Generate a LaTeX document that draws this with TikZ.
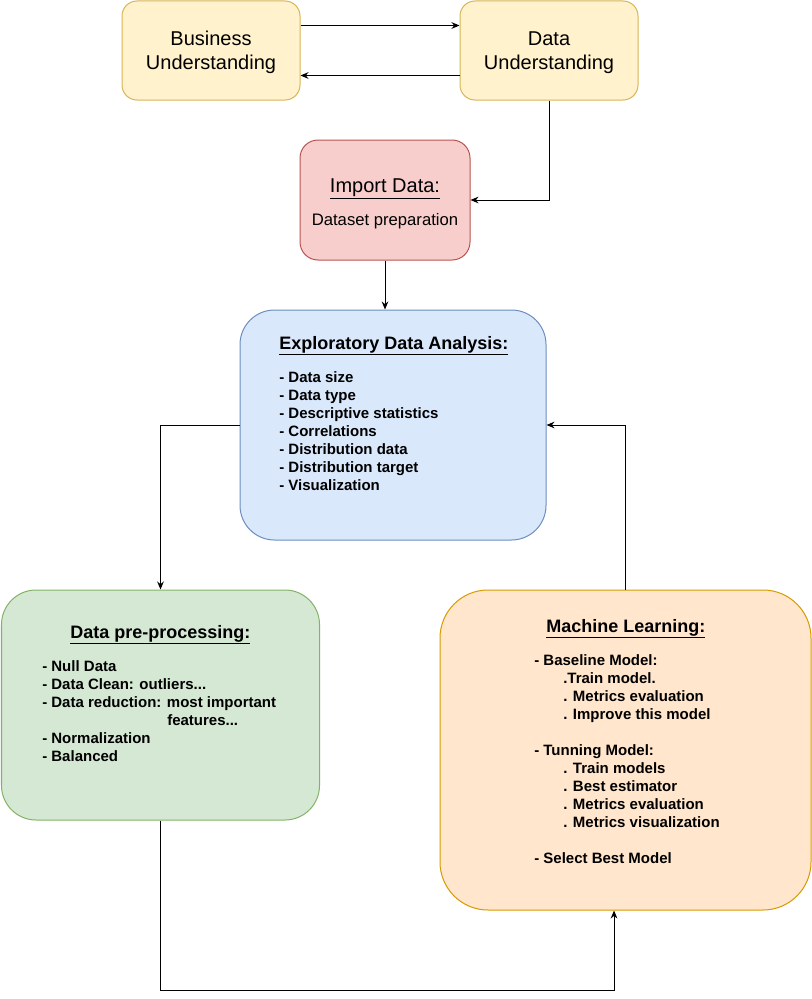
\documentclass[tikz,border=0pt]{standalone}
\usepackage{fontspec}
\setmainfont{Liberation Sans}
\usetikzlibrary{arrows.meta}
\definecolor{yelfill}{HTML}{FFF2CC}
\definecolor{yelline}{HTML}{D6B656}
\definecolor{redfill}{HTML}{F8CECC}
\definecolor{redline}{HTML}{B85450}
\definecolor{bluefill}{HTML}{DAE8FC}
\definecolor{blueline}{HTML}{6C8EBF}
\definecolor{greenfill}{HTML}{D5E8D4}
\definecolor{greenline}{HTML}{82B366}
\definecolor{orangefill}{HTML}{FFE6CC}
\definecolor{orangeline}{HTML}{D79B00}
\begin{document}
\begin{tikzpicture}[x=0.75pt,y=-0.75pt,
  box/.style={draw, line width=0.75pt, inner sep=0pt},
  plain/.style={font=\fontsize{15}{18}\selectfont, align=center, text depth=0pt},
  heading/.style={font=\fontsize{13.5}{16}\selectfont\bfseries, anchor=base west, inner sep=0pt},
  items/.style={font=\fontsize{11.25}{13.5}\selectfont\bfseries, align=left, anchor=base west, inner sep=0pt},
  flow/.style={-{Stealth[length=6pt,width=5pt]}, line width=0.75pt}]
\useasboundingbox (0,0) rectangle (812,999);
% top row
\node[box, plain, fill=yelfill, draw=yelline, rounded corners=11.25pt, minimum width=133.5pt, minimum height=74.25pt] (bu) at (211,50.5) {Business\\Understanding};
\node[box, plain, fill=yelfill, draw=yelline, rounded corners=11.25pt, minimum width=133.5pt, minimum height=74.25pt] (du) at (549,50.5) {Data\\Understanding};
% import
\node[box, fill=redfill, draw=redline, rounded corners=13.5pt, minimum width=127.5pt, minimum height=90pt] (imp) at (385,200) {};
\node[font=\fontsize{15}{18}\selectfont, anchor=base, inner sep=0pt] (imptitle) at (385,192) {\underline{Import Data:}};
\node[font=\fontsize{12.5}{15}\selectfont, anchor=base, inner sep=0pt] (impsub) at (385,225) {Dataset preparation};
% eda
\node[box, fill=bluefill, draw=blueline, rounded corners=25.9pt, minimum width=229.5pt, minimum height=172.5pt] (eda) at (393,425) {};
\node[heading] (edatitle) at (279,349) {\underline{Exploratory Data Analysis:}};
\node[items] (edalist) at (279,490) {- Data size\\- Data type\\- Descriptive statistics\\- Correlations\\- Distribution data\\- Distribution target\\- Visualization};
% pre-processing
\node[box, fill=greenfill, draw=greenline, rounded corners=25.9pt, minimum width=238.5pt, minimum height=172.5pt] (pre) at (160.5,705) {};
\node[heading] (pretitle) at (70,638) {\underline{Data pre-processing:}};
\node[items] (prelist) at (42,761) {- Null Data\\- Data Clean: outliers...\\- Data reduction: most important\\\hspace*{93.75pt}features...\\- Normalization\\- Balanced};
% machine learning
\node[box, fill=orangefill, draw=orangeline, rounded corners=36pt, minimum width=278.25pt, minimum height=240pt] (ml) at (625.5,750) {};
\node[heading] (mltitle) at (546,632) {\underline{Machine Learning:}};
\node[items] (mllist) at (534,863) {- Baseline Model:\\\hspace*{21.75pt}.Train model.\\\hspace*{21.75pt}. Metrics evaluation\\\hspace*{21.75pt}. Improve this model\\[13.5pt]- Tunning Model:\\\hspace*{21.75pt}. Train models\\\hspace*{21.75pt}. Best estimator\\\hspace*{21.75pt}. Metrics evaluation\\\hspace*{21.75pt}. Metrics visualization\\[13.5pt]- Select Best Model};
% connectors
\draw[flow] ([yshift=18.75pt]bu.east) -- ([yshift=18.75pt]du.west);
\draw[flow] ([yshift=-18.75pt]du.west) -- ([yshift=-18.75pt]bu.east);
\draw[flow] (du.south) |- (imp.east);
\draw[flow] (imp.south) -- (imp.south |- eda.north);
\draw[flow] (eda.west) -| (pre.north);
\draw[flow] (pre.south) -- ++(0,170) -| ([xshift=-8.6pt]ml.south);
\draw[flow] (ml.north) |- (eda.east);
\end{tikzpicture}
\end{document}
